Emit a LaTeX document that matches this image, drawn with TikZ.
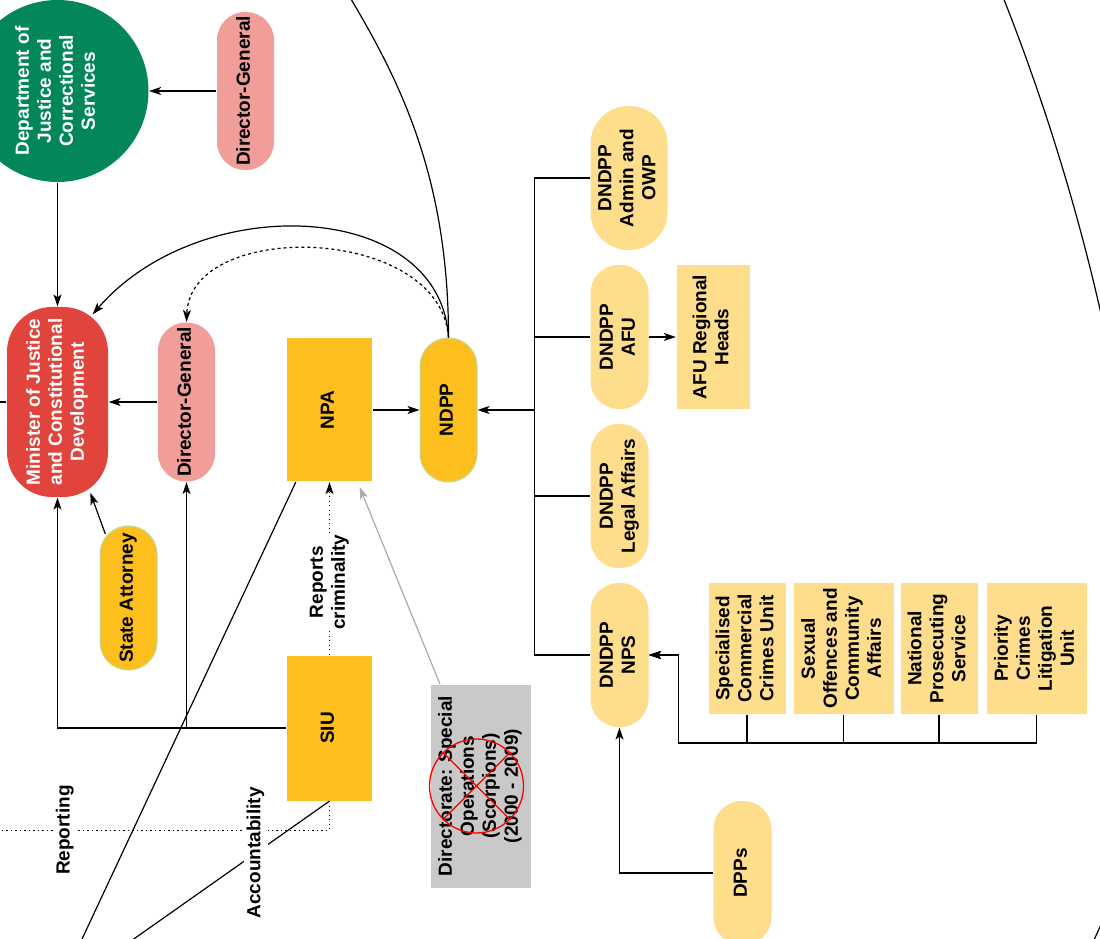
\documentclass[tikz,border=0pt]{standalone}
\usepackage{fontspec}
\setmainfont{Liberation Sans}
\usepackage{graphicx}
\usetikzlibrary{positioning}
\usetikzlibrary{arrows.meta}
\definecolor{deptgreen}{HTML}{03875A}
\definecolor{minred}{HTML}{E0443D}
\definecolor{dgpink}{HTML}{F19E9B}
\definecolor{npayellow}{HTML}{FCBF1D}
\definecolor{lightyellow}{HTML}{FEDD8D}
\definecolor{rimgreen}{HTML}{B9E0A5}
\definecolor{dsogray}{HTML}{C9C9C9}
\definecolor{linegray}{HTML}{AAAAAA}
\newcommand{\vt}[1]{\rotatebox{90}{\begin{tabular}{@{}c@{}}#1\end{tabular}}}

\begin{document}
\begin{tikzpicture}[x=1pt,y=1pt,line width=1.2pt,
  font=\fontsize{19}{22}\selectfont\bfseries,
  pill/.style={rectangle,rounded corners=28pt,inner sep=0pt,minimum width=57pt,minimum height=144pt},
  blk/.style={rectangle,inner sep=0pt,minimum height=143pt},
  lbl/.style={fill=white,inner sep=1pt},
  conn/.style={->,>={Stealth[length=12pt,width=8pt,inset=3pt]}},
  dotconn/.style={dash pattern=on 1.2pt off 3.3pt}]

  \useasboundingbox (0,0) rectangle (1100,938);

  % left column
  \node[pill,fill=minred,text=white,minimum width=101pt,minimum height=190pt,rounded corners=45pt] (Min) at (57.5,536)
    {\vt{Minister of Justice\\and Constitutional\\Development}};
  \node[circle,fill=deptgreen,text=white,minimum size=182pt,inner sep=0pt] (Dept) [above=311pt of Min.center,anchor=center]
    {\vt{Department of\\Justice and\\Correctional\\Services}};
  \node[pill,fill=dgpink,minimum height=158pt] (DGt) [right=188pt of Dept.center,anchor=center] {\vt{Director-General}};
  \node[pill,fill=dgpink,minimum height=159pt] (DGm) [right=129pt of Min.center,anchor=center] {\vt{Director-General}};
  \node[pill,fill=npayellow,draw=rimgreen,line width=1pt] (SA) [below right=196pt and 71pt of Min.center,anchor=center] {\vt{State Attorney}};

  % middle column
  \node[blk,fill=npayellow,minimum width=85pt] (NPA) [below right=8pt and 272pt of Min.center,anchor=center] {\vt{NPA}};
  \node[pill,fill=npayellow,draw=rimgreen,line width=1pt] (NDPP) [right=119pt of NPA.center,anchor=center] {\vt{NDPP}};
  \node[blk,fill=npayellow,minimum width=85pt,minimum height=145pt] (SIU) [below=318pt of NPA.center,anchor=center] {\vt{SIU}};
  \node[blk,fill=dsogray,minimum width=100pt,minimum height=203pt] (DSO) [below right=58pt and 151pt of SIU.center,anchor=center]
    {\vt{Directorate: Special\\Operations\\(Scorpions)\\(2000 - 2009)}};
  \node[circle,draw=red,line width=1.3pt,minimum size=94pt,inner sep=0pt] (Xmark) [left=4pt of DSO.center,anchor=center] {};
  \draw[red,line width=1.3pt] (Xmark.north west) -- (Xmark.south east) (Xmark.north east) -- (Xmark.south west);

  % right column
  \node[pill,fill=lightyellow,minimum width=58pt] (Legal) [below right=86pt and 171pt of NDPP.center,anchor=center] {\vt{DNDPP\\Legal Affairs}};
  \node[pill,fill=lightyellow,minimum width=58pt] (AFU)   [above=159pt of Legal.center,anchor=center] {\vt{DNDPP\\AFU}};
  \node[pill,fill=lightyellow,minimum width=77pt,rounded corners=38pt] (Admin) [above right=159pt and 9.5pt of AFU.center,anchor=center] {\vt{DNDPP\\Admin and\\OWP}};
  \node[blk,fill=lightyellow,minimum width=73pt,minimum height=144pt] (AFUR) [right=93.5pt of AFU.center,anchor=center] {\vt{AFU Regional\\Heads}};
  \node[pill,fill=lightyellow,minimum width=58pt] (NPS)   [below=159pt of Legal.center,anchor=center] {\vt{DNDPP\\NPS}};
  \node[blk,fill=lightyellow,minimum width=77pt,minimum height=131pt]  (SCCU) [above right=6.5pt and 127.5pt of NPS.center,anchor=center] {\vt{Specialised\\Commercial\\Crimes Unit}};
  \node[blk,fill=lightyellow,minimum width=100pt,minimum height=131pt] (SOCA) [right=96.5pt of SCCU.center,anchor=center] {\vt{Sexual\\Offences and\\Community\\Affairs}};
  \node[blk,fill=lightyellow,minimum width=77pt,minimum height=131pt]  (NPSv) [right=95.5pt of SOCA.center,anchor=center] {\vt{National\\Prosecuting\\Service}};
  \node[blk,fill=lightyellow,minimum width=100pt,minimum height=131pt] (PCLU) [right=97.5pt of NPSv.center,anchor=center] {\vt{Priority\\Crimes\\Litigation\\Unit}};
  \node[pill,fill=lightyellow,minimum width=58pt] (DPPs) [below right=218pt and 123pt of NPS.center,anchor=center] {\vt{DPPs}};

  % free ends and joints
  \coordinate[right=57pt of NDPP.east] (bus);
  \coordinate[below right=88pt and 29pt of NPS.east] (nj);
  \coordinate[left=20pt of Min.west] (leftEnd);
  \coordinate[above left=373pt and 118pt of NDPP.north] (topEnd);
  \coordinate[below left=590pt and 276pt of NPA.center] (npaEnd);
  \coordinate[below left=199pt and 282.5pt of SIU.south] (accEnd);
  \coordinate[below left=29pt and 330.5pt of SIU.south] (repEnd);
  \coordinate (arcTop) at (990,973);
  \coordinate (arcBot) at (1070,-42);

  \path[conn]
    (DGt)  edge (Dept)
    (Dept) edge (Min)
    (DGm)  edge (Min)
    (SA)   edge[shorten <=-9pt,shorten >=-5pt] (Min)
    (NPA)  edge (NDPP)
    (AFU)  edge (AFUR);

  \draw (leftEnd) -- (Min);
  \draw[conn] (SIU) -| (Min);
  \draw[conn] (SIU) -| (DGm);

  \draw (Admin) -| (bus) |- (NPS);
  \draw (AFU) -- (AFU -| bus);
  \draw (Legal) -- (Legal -| bus);
  \draw[conn,line width=1.8pt] (bus) -- (NDPP);

  \draw[conn] (SCCU) |- (nj) |- (NPS);
  \draw[conn] (SOCA) |- (nj) |- (NPS);
  \draw[conn] (NPSv) |- (nj) |- (NPS);
  \draw[conn] (PCLU) |- (nj) |- (NPS);
  \draw[conn] (DPPs) -| (NPS);

  % curves from NDPP
  \draw (NDPP.north) .. controls +(0,188) and +(50,-85) .. (topEnd);
  \draw[conn] (NDPP.north) .. controls +(-8,138) and +(108,125) .. ([shift={(-16pt,-8pt)}]Min.north east);
  \draw[conn,dashed] (NDPP.north) .. controls +(-8,113) and +(4,103) .. (DGm.north);

  % reporting lines
  \draw[conn,dotconn] (SIU) -- node[lbl,pos=0.42] {\vt{Reports\\criminality}} (NPA);
  \draw[dotconn] (SIU.south) |- node[lbl,pos=0.9] {\vt{Reporting}} (repEnd);
  \draw (NPA) -- (npaEnd);
  \draw (SIU.south) -- node[lbl,pos=0.26] {\vt{Accountability}} (accEnd);
  \draw[conn,draw=linegray] ([xshift=10pt]DSO.north west) -- ([shift={(-13pt,-5pt)}]NPA.south east);

  \draw (arcTop) .. controls (1150,588) and (1200,138) .. (arcBot);

\end{tikzpicture}
\end{document}
